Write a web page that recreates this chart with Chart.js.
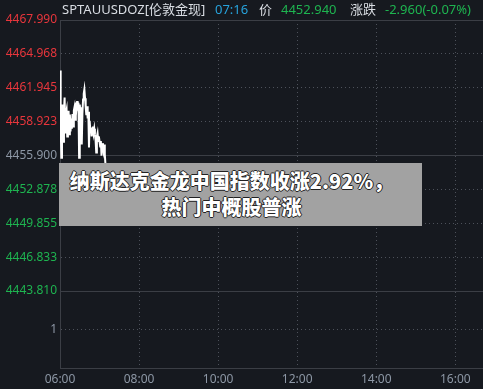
<!DOCTYPE html>
<html>
<head>
<meta charset="utf-8">
<style>
  html, body { margin: 0; padding: 0; background: #16191f; }
  #wrap { position: relative; width: 483px; height: 389px; overflow: hidden; background: #16191f; }
  #chart { position: absolute; left: 0; top: 0; }
  .hd { position: absolute; top: 0; font-size: 13px; line-height: 18px; white-space: nowrap;
        font-family: "Noto Sans", "Noto Sans CJK SC", sans-serif; }
  #banner { position: absolute; left: 59px; top: 163px; width: 363px; height: 63px; background: #a2a2a2;
            box-sizing: border-box; padding: 5px 18px 0 0; text-align: center; color: #fff;
            font: 900 20px "Noto Sans CJK SC", sans-serif; line-height: 25.5px;
            text-shadow: 1px 0 0 #222, -1px 0 0 #222, 0 1px 0 #222, 0 -1px 0 #222; }
</style>
<script src="https://cdn.jsdelivr.net/npm/chart.js@4/dist/chart.umd.min.js"></script>
</head>
<body>
<div id="wrap">
  <canvas id="chart" width="483" height="389"></canvas>
  <span class="hd" style="left:62px;color:#d9dde3">SPTAUUSDOZ[伦敦金现]</span>
  <span class="hd" style="left:215px;color:#27a2db">07:16</span>
  <span class="hd" style="left:259px;color:#d9dde3">价</span>
  <span class="hd" style="left:281px;color:#1eb450">4452.940</span>
  <span class="hd" style="left:350px;color:#d9dde3">涨跌</span>
  <span class="hd" style="left:385px;color:#1eb450">-2.960(-0.07%)</span>
  <div id="banner">纳斯达克金龙中国指数收涨2.92%，<br>热门中概股普涨</div>
</div>
<script>
// previous close and fixed axis ticks
const prevClose = 4455.900;
const priceTicks = [4467.990, 4464.968, 4461.945, 4458.923, 4455.900, 4452.878, 4449.855, 4446.833, 4443.810];
const volumeTicks = [1];
const timeTicks = [0, 120, 240, 360, 480, 600];   // minutes after 06:00
const timeLabels = ['06:00', '08:00', '10:00', '12:00', '14:00', '16:00'];

// one price per minute from 06:00
const prices = [
  4463.49, 4458.90, 4455.71, 4458.60, 4460.45, 4457.14, 4459.80, 4461.08, 4457.95, 4459.70,
  4460.00, 4457.59, 4459.30, 4459.90, 4457.80, 4459.56, 4458.04, 4459.20, 4458.30, 4459.60,
  4458.50, 4459.90, 4460.20, 4459.10, 4460.63, 4460.10, 4460.75, 4459.90, 4460.60, 4455.71,
  4460.45, 4459.70, 4460.20, 4456.88, 4459.60, 4460.90, 4461.40, 4461.79, 4461.00, 4460.18,
  4459.50, 4460.30, 4459.20, 4459.80, 4456.61, 4459.00, 4458.20, 4458.40, 4457.60, 4458.10,
  4458.50, 4457.90, 4458.30, 4457.77, 4457.30, 4456.16, 4457.60, 4457.90, 4457.20, 4457.60,
  4457.14, 4456.70, 4457.20, 4455.89, 4456.90, 4457.00, 4456.40, 4456.88, 4456.00, 4455.09,
  4452.94
];

const red = '#e8363c';
const green = '#1eb450';
const gray = '#8d97a5';
const gridSolid = '#3b3e45';
const gridDot = '#4d515a';
const font = { family: '"Noto Sans", sans-serif', size: 12 };

const isSolidPrice = v => v === priceTicks[0] || v === prevClose || v === priceTicks[priceTicks.length - 1];

const canvas = document.getElementById('chart');

const chart = new Chart(canvas, {
  type: 'line',
  data: {
    datasets: [{
      data: prices.map((p, i) => ({ x: i, y: p })),
      borderColor: '#ffffff',
      borderWidth: 2,
      pointRadius: 0,
      tension: 0,
      yAxisID: 'y'
    }]
  },
  options: {
    responsive: false,
    animation: false,
    layout: { padding: { top: 20, right: 0, left: 0, bottom: 0 } },
    plugins: { legend: { display: false }, tooltip: { enabled: false } },
    scales: {
      x: {
        type: 'linear', min: 0, max: 642,
        afterBuildTicks: s => { s.ticks = timeTicks.map(v => ({ value: v })); },
        afterFit: s => { s.height = 21; },
        ticks: {
          color: gray, font, padding: 4, maxRotation: 0, autoSkip: false,
          callback: v => timeLabels[timeTicks.indexOf(v)]
        },
        grid: { drawTicks: false, color: ctx => ctx.tick && ctx.tick.value === 0 ? gridSolid : gridDot },
        border: { color: gridSolid, dash: ctx => ctx.tick && ctx.tick.value !== 0 ? [1, 3] : [] }
      },
      y: {
        stack: 'left', stackWeight: 271.3, weight: 1, position: 'left',
        min: 4443.81, max: 4467.99,
        afterBuildTicks: s => { s.ticks = priceTicks.map(v => ({ value: v })); },
        afterFit: s => { s.width = 60; },
        ticks: {
          font, padding: 3, autoSkip: false,
          color: ctx => ctx.tick.value > prevClose + 0.001 ? red : (ctx.tick.value < prevClose - 0.001 ? green : gray),
          callback: v => v.toFixed(3)
        },
        grid: {
          drawTicks: false,
          color: ctx => (ctx.tick && isSolidPrice(ctx.tick.value)) ? gridSolid : gridDot
        },
        border: {
          color: gridSolid,
          dash: ctx => (!ctx.tick || isSolidPrice(ctx.tick.value)) ? [] : [1, 3]
        }
      },
      y2: {
        stack: 'left', stackWeight: 77, weight: 0, position: 'left',
        min: 0, max: 2,
        afterBuildTicks: s => { s.ticks = volumeTicks.map(v => ({ value: v })); },
        afterFit: s => { s.width = 60; },
        ticks: { font, padding: 3, color: gray, callback: v => String(v) },
        grid: { drawTicks: false, color: gridDot },
        border: { color: gridSolid, dash: ctx => ctx.tick ? [1, 3] : [] }
      }
    }
  }
});
</script>
</body>
</html>
